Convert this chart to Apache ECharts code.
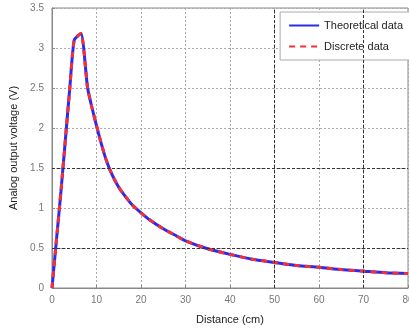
<!DOCTYPE html>
<html>
<head>
<meta charset="utf-8">
<script src="https://cdn.jsdelivr.net/npm/echarts@6/dist/echarts.min.js"></script>
</head>
<body style="margin:0;background:#fff">
<div id="main" style="width:409px;height:330px"></div>
<script>
// distance (cm) and voltage (V)
var distance = [0, 1, 2, 3, 4, 5, 6.5, 8, 9, 10, 11, 12, 13, 14, 15, 16, 18, 20, 22, 25, 28, 30, 35, 40, 45, 50, 55, 60, 65, 70, 75, 80];
var theoretical = [0, 0.6, 1.2, 1.85, 2.5, 3.1, 3.18, 2.5, 2.25, 2.03, 1.82, 1.63, 1.48, 1.36, 1.26, 1.18, 1.04, 0.94, 0.85, 0.74, 0.65, 0.59, 0.49, 0.42, 0.36, 0.32, 0.28, 0.26, 0.23, 0.21, 0.19, 0.18];
var discrete = [0, 0.6, 1.2, 1.85, 2.5, 3.1, 3.18, 2.5, 2.25, 2.03, 1.82, 1.63, 1.48, 1.36, 1.26, 1.18, 1.04, 0.94, 0.85, 0.74, 0.65, 0.59, 0.49, 0.42, 0.36, 0.32, 0.28, 0.26, 0.23, 0.21, 0.19, 0.18];

function pairs(xs, ys) {
  return xs.map(function (x, i) { return [x, ys[i]]; });
}

var chart = echarts.init(document.getElementById('main'));
chart.setOption({
  animation: false,
  grid: { left: 52, top: 8, right: 1, bottom: 42, outerBoundsMode: 'none', show: true, borderColor: '#888', borderWidth: 1 },
  legend: {
    orient: 'vertical', right: -4, top: 12,
    backgroundColor: '#fff', borderColor: '#aaa', borderWidth: 1,
    padding: [8, 10, 8, 8], itemGap: 10, itemWidth: 30, itemHeight: 10,
    itemStyle: { opacity: 0 },
    textStyle: { fontSize: 11, color: '#222', fontFamily: 'Liberation Sans' },
    data: ['Theoretical data', 'Discrete data']
  },
  xAxis: {
    type: 'value', min: 0, max: 80, interval: 10,
    name: 'Distance (cm)', nameLocation: 'middle', nameGap: 26,
    nameTextStyle: { fontSize: 11, color: '#222', fontFamily: 'Liberation Sans' },
    axisLine: { lineStyle: { color: '#888' } },
    axisTick: { inside: true, length: 3, lineStyle: { color: '#888' } },
    axisLabel: { fontSize: 10, color: '#777', margin: 7 },
    splitLine: { show: true, lineStyle: { color: '#aaa', type: [2, 2] } }
  },
  yAxis: {
    type: 'value', min: 0, max: 3.5, interval: 0.5,
    name: 'Analog output voltage (V)', nameLocation: 'middle', nameGap: 29,
    nameTextStyle: { fontSize: 11, color: '#222', fontFamily: 'Liberation Sans' },
    axisLine: { show: true, lineStyle: { color: '#888' } },
    axisTick: { show: true, inside: true, length: 3, lineStyle: { color: '#888' } },
    axisLabel: { fontSize: 10, color: '#777', margin: 8 },
    splitLine: { show: true, lineStyle: { color: '#aaa', type: [2, 2] } }
  },
  series: [
    {
      name: 'Theoretical data', type: 'line', symbol: 'none', smooth: 0.2,
      data: pairs(distance, theoretical),
      lineStyle: { color: '#2b2bf0', width: 3 },
      itemStyle: { color: '#2b2bf0' },
      markLine: {
        silent: true, symbol: 'none', label: { show: false },
        lineStyle: { color: '#333', type: [3, 2], width: 1 },
        data: [{ xAxis: 50 }, { xAxis: 70 }, { yAxis: 0.5 }, { yAxis: 1.5 }]
      },
      z: 2
    },
    {
      name: 'Discrete data', type: 'line', symbol: 'none', smooth: 0.2,
      data: pairs(distance, discrete),
      lineStyle: { color: '#f0303a', width: 3, type: [6, 5] },
      itemStyle: { color: '#f0303a' },
      z: 3
    }
  ]
});
</script>
</body>
</html>
